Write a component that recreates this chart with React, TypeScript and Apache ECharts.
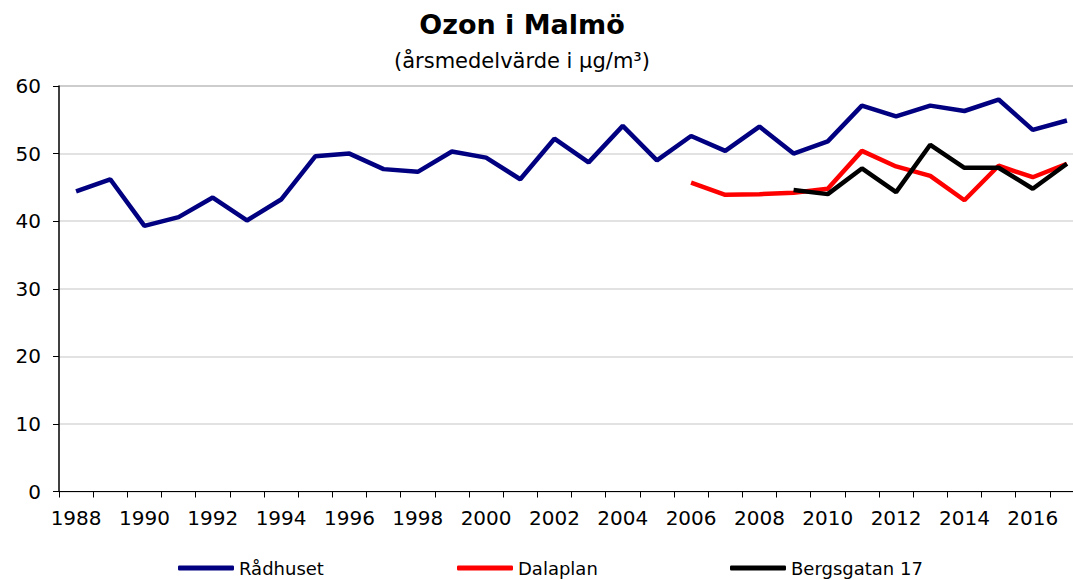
import React, { useEffect, useRef } from "react";
import * as echarts from "echarts";

const years: string[] = [
  "1988", "1989", "1990", "1991", "1992", "1993", "1994", "1995", "1996", "1997",
  "1998", "1999", "2000", "2001", "2002", "2003", "2004", "2005", "2006", "2007",
  "2008", "2009", "2010", "2011", "2012", "2013", "2014", "2015", "2016", "2017",
];

const radhuset: (number | null)[] = [
  44.4, 46.2, 39.3, 40.6, 43.5, 40.1, 43.2, 49.6, 50.0, 47.7,
  47.3, 50.3, 49.4, 46.2, 52.2, 48.7, 54.1, 49.0, 52.6, 50.4,
  54.0, 50.0, 51.8, 57.1, 55.5, 57.1, 56.3, 58.0, 53.5, 54.9,
];

const dalaplan: (number | null)[] = [
  null, null, null, null, null, null, null, null, null, null,
  null, null, null, null, null, null, null, null, 45.7, 43.9,
  44.0, 44.2, 44.8, 50.4, 48.1, 46.7, 43.1, 48.2, 46.5, 48.5,
];

const bergsgatan: (number | null)[] = [
  null, null, null, null, null, null, null, null, null, null,
  null, null, null, null, null, null, null, null, null, null,
  null, 44.6, 44.0, 47.8, 44.3, 51.3, 47.9, 47.9, 44.8, 48.5,
];

const FONT = "DejaVu Sans, Verdana, sans-serif";

export default function App() {
  const ref = useRef<HTMLDivElement>(null);
  useEffect(() => {
    if (!ref.current) return;
    const chart = echarts.init(ref.current, null, { renderer: "svg" });
    const legendText = { fontFamily: FONT, fontSize: 18, color: "#000" };
    chart.setOption({
      animation: false,
      backgroundColor: "#fff",
      title: {
        text: "Ozon i Malmö",
        subtext: "(årsmedelvärde i µg/m³)",
        left: 522,
        textAlign: "center",
        top: 11,
        padding: 0,
        itemGap: 12,
        textStyle: { fontFamily: FONT, fontSize: 27, fontWeight: "bold", color: "#000" },
        subtextStyle: { fontFamily: FONT, fontSize: 21, color: "#000" },
      },
      legend: [
        {
          data: ["Rådhuset"], left: 178, top: 559, padding: 0,
          icon: "roundRect", itemWidth: 56, itemHeight: 5, textStyle: legendText,
        },
        {
          data: ["Dalaplan"], left: 457, top: 559, padding: 0,
          icon: "roundRect", itemWidth: 56, itemHeight: 5, textStyle: legendText,
        },
        {
          data: ["Bergsgatan 17"], left: 730, top: 559, padding: 0,
          icon: "roundRect", itemWidth: 56, itemHeight: 5, textStyle: legendText,
        },
      ],
      grid: { left: 59, right: 0, top: 86, bottom: 88.5, containLabel: false },
      xAxis: {
        type: "category",
        data: years,
        boundaryGap: true,
        axisLine: { lineStyle: { color: "#000", width: 1 } },
        axisTick: { show: true, interval: 0, length: 6, lineStyle: { color: "#000" } },
        axisLabel: {
          interval: 1, margin: 16, color: "#000", fontFamily: FONT, fontSize: 20,
        },
        splitLine: { show: false },
      },
      yAxis: {
        type: "value",
        min: 0,
        max: 60,
        interval: 10,
        axisLine: { show: true, lineStyle: { color: "#000", width: 1.5 } },
        axisTick: { show: true, length: 6, lineStyle: { color: "#000" } },
        axisLabel: { margin: 18, color: "#000", fontFamily: FONT, fontSize: 20 },
        splitLine: {
          lineStyle: {
            color: ["#d9d9d9", "#d9d9d9", "#d9d9d9", "#d9d9d9", "#d9d9d9", "#d9d9d9", "#bdbdbd"],
            width: 1.5,
          },
        },
      },
      series: [
        {
          name: "Rådhuset", type: "line", data: radhuset, showSymbol: false, symbol: "none",
          color: "#000080", lineStyle: { color: "#000080", width: 4.5 },
        },
        {
          name: "Dalaplan", type: "line", data: dalaplan, showSymbol: false, symbol: "none",
          color: "#ff0000", lineStyle: { color: "#ff0000", width: 4.5 },
        },
        {
          name: "Bergsgatan 17", type: "line", data: bergsgatan, showSymbol: false, symbol: "none",
          color: "#000000", lineStyle: { color: "#000000", width: 4.5 },
        },
      ],
    });
    return () => chart.dispose();
  }, []);
  return (
    <div
      style={{
        position: "fixed", left: 0, top: 0, width: 1073, height: 580,
        overflow: "hidden", background: "#fff",
      }}
    >
      <div ref={ref} style={{ width: 1084, height: 580 }} />
    </div>
  );
}
